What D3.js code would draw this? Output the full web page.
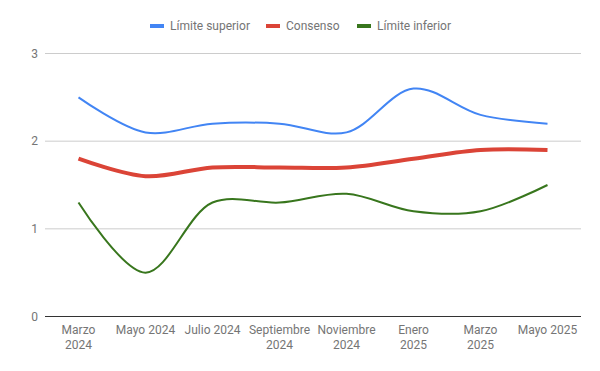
<!DOCTYPE html>
<html>
<head>
<meta charset="utf-8">
<script src="https://cdn.jsdelivr.net/npm/d3@7"></script>
<style>
  body { margin: 0; background: #fff; }
  text { font-family: Roboto, sans-serif; }
</style>
</head>
<body>
<div id="vis"></div>
<script>
// chart data
var months = ['Marzo 2024', 'Mayo 2024', 'Julio 2024', 'Septiembre 2024',
              'Noviembre 2024', 'Enero 2025', 'Marzo 2025', 'Mayo 2025'];
var upper = [2.5, 2.1, 2.2, 2.2, 2.1, 2.6, 2.3, 2.2];
var consensus = [1.8, 1.6, 1.7, 1.7, 1.7, 1.8, 1.9, 1.9];
var lower = [1.3, 0.5, 1.3, 1.3, 1.4, 1.2, 1.2, 1.5];
var yTicks = [0, 1, 2, 3];

var seriesNames = ['Límite superior', 'Consenso', 'Límite inferior'];
var seriesValues = [upper, consensus, lower];

var width = 600;
var height = 371;
var margin = { top: 53.5, right: 19, bottom: 54.5, left: 45 };

var colors = ['#4285f4', '#db4437', '#38761d'];
var widths = [2, 4, 2];

var svg = d3.select('#vis')
  .append('svg')
  .attr('width', width)
  .attr('height', height);

var x = d3.scaleBand()
  .domain(months)
  .range([margin.left, width - margin.right]);

var y = d3.scaleLinear()
  .domain([0, 3])
  .range([height - margin.bottom, margin.top]);

// gridlines
svg.append('g')
  .selectAll('line')
  .data(yTicks.filter(function (d) { return d > 0; }))
  .enter().append('line')
  .attr('x1', margin.left)
  .attr('x2', width - margin.right)
  .attr('y1', function (d) { return y(d); })
  .attr('y2', function (d) { return y(d); })
  .attr('stroke', '#cccccc')
  .attr('stroke-width', 1);

// y labels
svg.append('g')
  .selectAll('text')
  .data(yTicks)
  .enter().append('text')
  .attr('x', margin.left - 7)
  .attr('y', function (d) { return y(d); })
  .attr('dy', '0.35em')
  .attr('text-anchor', 'end')
  .attr('font-size', 12)
  .attr('fill', '#757575')
  .text(function (d) { return d; });

// x labels, wrapped in two lines when needed
var xLabels = svg.append('g')
  .selectAll('text')
  .data(months)
  .enter().append('text')
  .attr('text-anchor', 'middle')
  .attr('font-size', 12)
  .attr('fill', '#757575');

xLabels.each(function (d) {
  var t = d3.select(this);
  var cx = x(d) + x.bandwidth() / 2;
  var parts = (d === 'Mayo 2024' || d === 'Julio 2024' || d === 'Mayo 2025') ? [d] : d.split(' ');
  parts.forEach(function (p, i) {
    t.append('tspan')
      .attr('x', cx)
      .attr('y', 334 + i * 15)
      .text(p);
  });
});

// series lines
var line = d3.line()
  .x(function (d, i) { return x(months[i]) + x.bandwidth() / 2; })
  .y(function (d) { return y(d); })
  .curve(d3.curveCatmullRom.alpha(0.5));

seriesValues.forEach(function (vals, k) {
  svg.append('path')
    .datum(vals)
    .attr('fill', 'none')
    .attr('stroke', colors[k])
    .attr('stroke-width', widths[k])
    .attr('d', line);
});

// baseline
svg.append('line')
  .attr('x1', margin.left)
  .attr('x2', width - margin.right)
  .attr('y1', y(0))
  .attr('y2', y(0))
  .attr('stroke', '#333333')
  .attr('stroke-width', 1);

// legend
var legendX = [150, 266, 357];
var legend = svg.append('g')
  .selectAll('g')
  .data(seriesNames)
  .enter().append('g')
  .attr('transform', function (d, i) { return 'translate(' + legendX[i] + ',26)'; });

legend.append('rect')
  .attr('x', 0)
  .attr('y', -2)
  .attr('width', 14)
  .attr('height', 4)
  .attr('fill', function (d, i) { return colors[i]; });

legend.append('text')
  .attr('x', 20)
  .attr('dy', '0.35em')
  .attr('font-size', 12)
  .attr('fill', '#757575')
  .text(function (d) { return d; });
</script>
</body>
</html>
